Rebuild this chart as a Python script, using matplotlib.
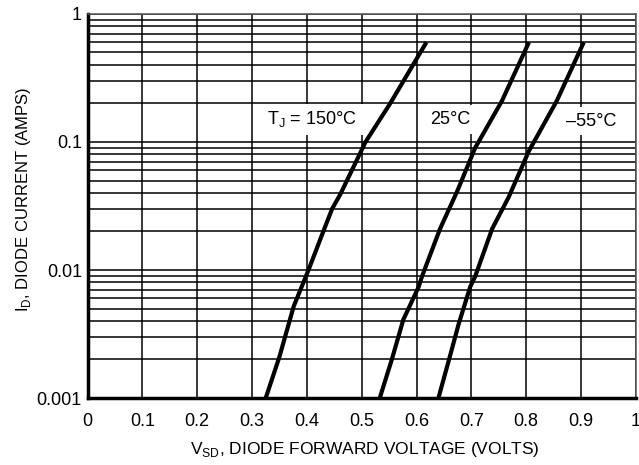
import matplotlib.pyplot as plt
import matplotlib.ticker as mticker
import numpy as np

plt.rcParams['font.family'] = ['Liberation Sans', 'DejaVu Sans']

# --- DATA ---
V_150 = [0.325, 0.35, 0.376, 0.403, 0.43, 0.446, 0.461, 0.507, 0.552, 0.618]
I_150 = [0.001, 0.0021, 0.0052, 0.01, 0.02, 0.03, 0.039, 0.1, 0.2, 0.6]

V_25 = [0.533, 0.555, 0.576, 0.604, 0.61, 0.643, 0.674, 0.707, 0.756, 0.805]
I_25 = [0.001, 0.002, 0.0041, 0.0074, 0.0089, 0.021, 0.041, 0.09, 0.21, 0.6]

V_M55 = [0.64, 0.662, 0.677, 0.698, 0.707, 0.738, 0.768, 0.805, 0.856, 0.905]
I_M55 = [0.001, 0.0022, 0.0038, 0.0074, 0.0089, 0.021, 0.037, 0.085, 0.21, 0.6]

X_TICKS = [0, 0.1, 0.2, 0.3, 0.4, 0.5, 0.6, 0.7, 0.8, 0.9, 1]
X_LABELS = ["0", "0.1", "0.2", "0.3", "0.4", "0.5", "0.6", "0.7", "0.8", "0.9", "1"]
Y_TICKS = [0.001, 0.01, 0.1, 1]
Y_LABELS = ["0.001", "0.01", "0.1", "1"]

fig = plt.figure(figsize=(6.39, 4.65), dpi=100)
ax = fig.add_axes([0.137, 0.144, 0.858, 0.826])

ax.set_yscale('log')
ax.set_xlim(0, 1)
ax.set_ylim(0.001, 1)

# grid: vertical every 0.1, horizontal on every log subdivision
ax.set_xticks(X_TICKS)
ax.set_xticklabels(X_LABELS)
ax.set_yticks(Y_TICKS)
ax.set_yticklabels(Y_LABELS)
ax.yaxis.set_minor_locator(mticker.LogLocator(base=10, subs=np.arange(2, 10)))
ax.yaxis.set_minor_formatter(mticker.NullFormatter())
ax.grid(True, which='both', axis='both', color='black', linewidth=1.1)
ax.tick_params(which='both', length=0, labelsize=13)
ax.tick_params(axis='x', pad=11)
ax.tick_params(axis='y', pad=4)

# spines
for s in ['top', 'right']:
    ax.spines[s].set_color('#555555')
    ax.spines[s].set_linewidth(1.1)
for s in ['left', 'bottom']:
    ax.spines[s].set_color('black')
    ax.spines[s].set_linewidth(2.5)

# curves
for v, i in [(V_150, I_150), (V_25, I_25), (V_M55, I_M55)]:
    ax.plot(v, i, color='black', linewidth=3, solid_capstyle='butt', zorder=4)

# curve labels with white backgrounds
box = dict(facecolor='white', edgecolor='none', pad=4)
fs = 13
ax.text(0.41, 0.15, r"T$_\mathregular{J}$ = 150°C", fontsize=fs, ha='center', va='center', bbox=box, zorder=3)
ax.text(0.661, 0.15, "25°C", fontsize=fs, ha='center', va='center', bbox=box, zorder=3)
ax.text(0.918, 0.145, "\u201355°C", fontsize=fs, ha='center', va='center', bbox=box, zorder=3)

ax.set_xlabel(r"V$_\mathregular{SD}$, DIODE FORWARD VOLTAGE (VOLTS)", fontsize=12.5)
ax.xaxis.set_label_coords(0.506, -0.11)
ax.set_ylabel(r"I$_\mathregular{D}$, DIODE CURRENT (AMPS)", fontsize=12)
ax.yaxis.set_label_coords(-0.10, 0.518)

fig.savefig("out.png", dpi=100)
